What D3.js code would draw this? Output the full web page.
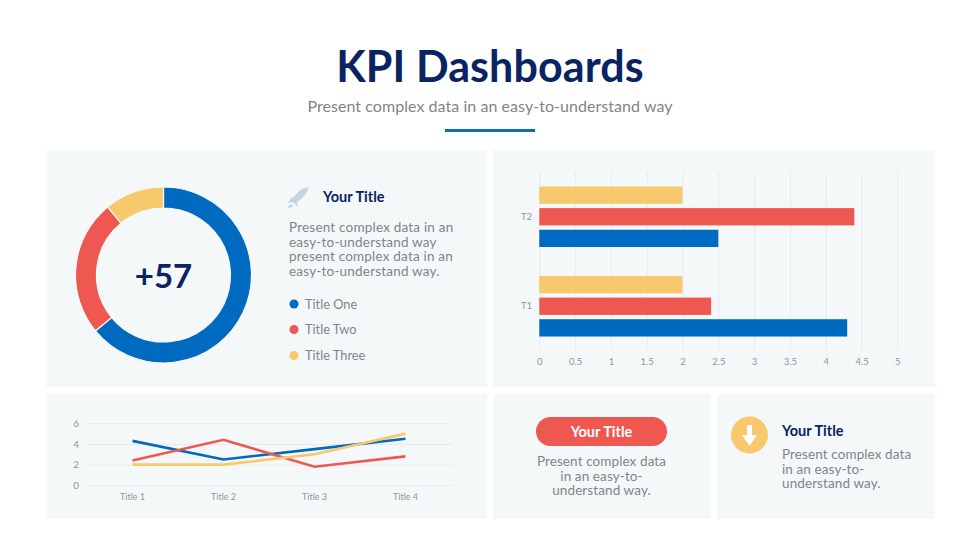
<!DOCTYPE html>
<html><head><meta charset="utf-8">
<script src="https://cdnjs.cloudflare.com/ajax/libs/d3/7.8.5/d3.min.js"></script>
<style>html,body{margin:0;padding:0;background:#fff}svg{display:block}text{font-family:Lato,sans-serif}</style>
</head><body><svg id="c" width="980" height="551"></svg>
<script>
const donutLabels = ["Title One","Title Two","Title Three"];
const donutValues = [8.2,3.2,1.4];
const barCategories = ["T1","T2"];
const barSeriesA = [4.3,2.5];
const barSeriesB = [2.4,4.4];
const barSeriesC = [2,2];
const barTicks = [0,0.5,1,1.5,2,2.5,3,3.5,4,4.5,5];
const lineCategories = ["Title 1","Title 2","Title 3","Title 4"];
const lineSeriesA = [4.3,2.5,3.5,4.5];
const lineSeriesB = [2.4,4.4,1.8,2.8];
const lineSeriesC = [2,2,3,5];
const lineTicks = [0,2,4,6];
const bodyLines = ["Present complex data in an","easy-to-understand way","present complex data in an","easy-to-understand way."];
const pillLines = ["Present complex data","in an easy-to-","understand way."];
const arrowLines = ["Present complex data","in an easy-to-","understand way."];

const BLUE="#0069C0",RED="#EF5850",YEL="#F7C86C",NAVY="#0A2463",GRAY="#7F858A",PANEL="#F5F8F9",GRID="#E6EAED",TICK="#8F9599";
const colors=[BLUE,RED,YEL];
const svg=d3.select("#c");

function txt(g,s,x,y,o={}){
  return g.append("text").attr("x",x).attr("y",y).text(s)
   .attr("font-size",o.size||13.5).attr("font-weight",o.weight||400)
   .attr("fill",o.fill||GRAY).attr("text-anchor",o.anchor||"start")
   .style("letter-spacing",(o.ls==null?0.2:o.ls)+"px");
}
[[46,150,441,237],[493,150,442,237],[46,394,441,125],[493,394,218,125],[717,394,218,125]]
 .forEach(p=>svg.append("rect").attr("x",p[0]).attr("y",p[1]).attr("width",p[2]).attr("height",p[3]).attr("fill",PANEL));

txt(svg,"KPI Dashboards",490,81.5,{size:43,weight:700,fill:NAVY,anchor:"middle",ls:0.1});
txt(svg,"Present complex data in an easy-to-understand way",490,112,{size:16,anchor:"middle",ls:0.05});
svg.append("rect").attr("x",445).attr("y",129).attr("width",90).attr("height",3).attr("fill","#0F6CB5");

// donut
const pie=d3.pie().sort(null)(donutValues);
const arc=d3.arc().innerRadius(67).outerRadius(88);
const dg=svg.append("g").attr("transform","translate(163.5,275)");
dg.selectAll("path").data(pie).join("path").attr("d",arc).attr("fill",(d,i)=>colors[i]).attr("stroke",PANEL).attr("stroke-width",1.2);
txt(dg,"+57",0,13,{size:33,weight:700,fill:NAVY,anchor:"middle",ls:0});

// rocket
const rk=svg.append("g").attr("transform","translate(288,186)").attr("fill","#C5D5DF");
rk.append("path").attr("d","M21 1C14 2 9 6 6 11L3 12L0 17L5 16L10 21L9 16C14 13 19 8 21 1Z");
rk.append("path").attr("d","M3 18C1 19 0 21 0 22C2 22 4 21 5 20Z");
txt(svg,"Your Title",323,202,{size:14.5,weight:700,fill:NAVY,ls:0});
bodyLines.forEach((l,i)=>txt(svg,l,289,232+i*14.7));
donutLabels.forEach((l,i)=>{
  const y=[304,329.5,355.5][i];
  svg.append("circle").attr("cx",294).attr("cy",y).attr("r",4.5).attr("fill",colors[i]);
  txt(svg,l,305,y+4.5,{size:12.8,ls:0});
});

// bars
const xB=d3.scaleLinear().domain([0,5]).range([539.3,897.3]);
const yB=d3.scaleBand().domain(barCategories.slice().reverse()).range([172,351]);
const barSeries=[barSeriesC,barSeriesB,barSeriesA];
const barColors=[YEL,RED,BLUE];
const y1=d3.scaleBand().domain([0,1,2]).range([0,yB.bandwidth()]).paddingInner(0.2).paddingOuter(0.67);
const ag=svg.append("g").attr("transform","translate(0,351)");
ag.call(d3.axisBottom(xB).tickValues(barTicks).tickSize(-179).tickFormat(d3.format("~g")));
ag.select(".domain").remove();
ag.selectAll("line").attr("stroke",GRID);
ag.selectAll("text").attr("dy",0).attr("y",13.5).attr("fill",TICK).attr("font-size",9.5).style("font-family","Lato,sans-serif");
barSeries.forEach((s,k)=>{
  svg.append("g").selectAll("rect").data(barCategories).join("rect")
   .attr("x",xB(0)).attr("y",(c)=>yB(c)+y1(k)).attr("height",y1.bandwidth())
   .attr("width",(c,i)=>xB(s[i])-xB(0)).attr("fill",barColors[k]);
});
const al=svg.append("g").attr("transform","translate(532,0)").call(d3.axisLeft(yB).tickSize(0).tickPadding(0));
al.select(".domain").remove();
al.selectAll("text").attr("fill",TICK).attr("font-size",9.5).style("font-family","Lato,sans-serif");

// lines
const xL=d3.scaleBand().domain(lineCategories).range([88,452]);
const yL=d3.scaleLinear().domain([0,6]).range([485.3,423.3]);
const gy=svg.append("g").attr("transform","translate(88,0)").call(d3.axisLeft(yL).tickValues(lineTicks).tickSize(-364).tickPadding(9).tickFormat(d3.format("d")));
gy.select(".domain").remove();
gy.selectAll("line").attr("stroke",GRID);
gy.selectAll("text").attr("fill",TICK).attr("font-size",10).style("font-family","Lato,sans-serif");
const gx=svg.append("g").attr("transform","translate(-1,485.3)").call(d3.axisBottom(xL).tickSize(0).tickPadding(8));
gx.select(".domain").remove();
gx.selectAll("text").attr("fill",TICK).attr("font-size",9).style("font-family","Lato,sans-serif");
const line=d3.line().x((d,i)=>xL(lineCategories[i])+xL.bandwidth()/2-1).y(d=>yL(d));
[lineSeriesA,lineSeriesB,lineSeriesC].forEach((s,k)=>{
  svg.append("path").attr("d",line(s)).attr("fill","none").attr("stroke",colors[k]).attr("stroke-width",2.6);
});

// bottom mid
svg.append("rect").attr("x",536).attr("y",417).attr("width",131).attr("height",29).attr("rx",14.5).attr("fill",RED);
txt(svg,"Your Title",601.5,436.5,{size:14.5,weight:700,fill:"#fff",anchor:"middle",ls:0});
pillLines.forEach((l,i)=>txt(svg,l,601.5,466+i*14.7,{anchor:"middle",ls:0.1}));

// bottom right
svg.append("circle").attr("cx",749.5).attr("cy",435).attr("r",18.5).attr("fill",YEL);
svg.append("path").attr("d","M747 425H752V435H757L749.5 446L742 435H747Z").attr("fill","#fff");
txt(svg,"Your Title",782,436,{size:14.5,weight:700,fill:NAVY,ls:0});
arrowLines.forEach((l,i)=>txt(svg,l,782,459+i*14.7,{ls:0.1}));
</script></body></html>
